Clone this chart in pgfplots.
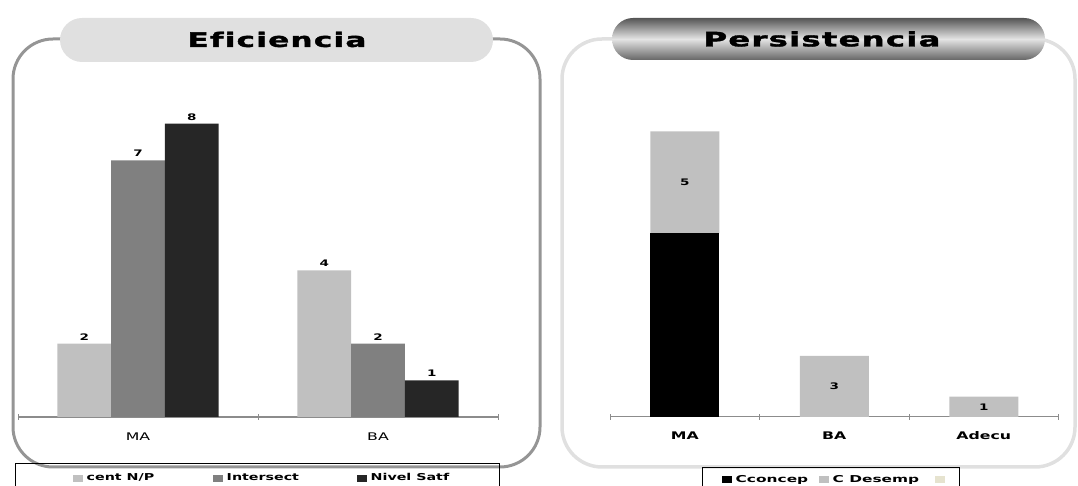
\documentclass[border=0pt]{standalone}
\usepackage{graphicx}
\usepackage{pgfplots}
\pgfplotsset{compat=1.18}
\usepackage{fontspec}
\setmainfont{DejaVu Sans}
\newfontfamily\titlefont[LetterSpace=4,FakeBold=1.5,Ligatures=NoCommon]{DejaVu Sans}
\newcommand{\hs}[1]{\scalebox{1.5}[1]{#1}}
\newcommand{\hsr}[1]{\scalebox{1.62}[1]{#1}}
\definecolor{barA}{HTML}{C0C0C0}
\definecolor{barB}{HTML}{808080}
\definecolor{barC}{HTML}{262626}
\definecolor{beige}{HTML}{E6E3CF}
\definecolor{frameL}{HTML}{959595}
\definecolor{frameR}{HTML}{E0E0E0}
\definecolor{pillL}{HTML}{E0E0E0}
\definecolor{pillDark}{HTML}{555555}
\definecolor{pillDarkB}{HTML}{666666}
\definecolor{pillLight}{HTML}{E4E4E4}
\definecolor{axisgray}{HTML}{8C8C8C}
\pgfplotsset{
  legimg/.style={legend image code/.code={\path[##1, draw=none] (0pt,-3.5pt) rectangle (10pt,3.5pt);}},
}
\begin{document}
\begin{tikzpicture}
\useasboundingbox (0pt,0pt) rectangle (1078pt,486pt);
% left frame and pill
\draw[color=frameL, line width=3pt, rounded corners=40pt] (13pt,19pt) rectangle (540pt,447pt);
\fill[pillL, rounded corners=22pt] (60pt,424pt) rectangle (493pt,468pt);
\node at (277pt,446.5pt) {\scalebox{1.554}[1]{\titlefont\bfseries\fontsize{20}{22}\selectfont Eficiencia}};
% right frame and pill
\draw[color=frameR, line width=3.5pt, rounded corners=40pt] (562pt,19pt) rectangle (1075pt,447pt);
\shade[rounded corners=21pt, top color=pillDark, bottom color=pillDarkB, middle color=pillLight] (612pt,426pt) rectangle (1045pt,468pt);
\node at (822pt,447pt) {\scalebox{1.611}[1]{\titlefont\bfseries\fontsize{20}{22}\selectfont Persistencia}};
% legend boxes
\draw[black, line width=0.9pt] (15pt,23pt) rectangle (499pt,-10pt);
\draw[black, line width=0.9pt] (702pt,19pt) rectangle (959pt,-10pt);

\begin{axis}[
  at={(18pt,69pt)}, anchor=south west, scale only axis,
  width=480pt, height=330pt,
  xmin=-0.5, xmax=1.5, ymin=0, ymax=9,
  clip=false,
  ybar=0pt, bar width=53.7pt,
  axis y line=none, axis x line=bottom,
  axis line style={-, draw=axisgray, line width=1.2pt},
  xtick={0,1}, xticklabels={\hs{MA},\hs{BA}},
  major tick length=0pt,
  extra x ticks={-0.5,0.5,1.5}, extra x tick labels={},
  extra x tick style={major tick length=6pt, tick align=center, tick style={draw=axisgray, line width=1pt}},
  xticklabel style={font=\fontsize{10.5}{12}\selectfont, yshift=-12pt},
  nodes near coords={\hs{\pgfmathprintnumber{\pgfplotspointmeta}}},
  /pgf/number format/assume math mode=true,
  every node near coord/.append style={font=\bfseries\fontsize{9}{10}\selectfont, black},
  legend columns=3,
  legimg,
  legend style={draw=none, fill=none, at={(axis description cs:0.1146,-0.185)}, anchor=west,
    font=\bfseries\fontsize{9.5}{10}\selectfont, inner sep=0pt},
]
\addplot[fill=barA, draw=none] coordinates {(0,2) (1,4)};
\addlegendentry{\makebox[126pt][l]{\hspace{1.5pt}\hs{cent N/P}}}
\addplot[fill=barB, draw=none] coordinates {(0,7) (1,2)};
\addlegendentry{\makebox[130pt][l]{\hspace{1.5pt}\hs{Intersect}}}
\addplot[fill=barC, draw=none] coordinates {(0,8) (1,1)};
\addlegendentry{\hspace{1.5pt}\hs{Nivel Satf}}
\end{axis}

\begin{axis}[
  at={(610pt,69pt)}, anchor=south west, scale only axis,
  width=448.5pt, height=326.4pt,
  xmin=-0.5, xmax=2.5, ymin=0, ymax=16,
  clip=false,
  ybar stacked, bar width=69pt,
  axis y line=none, axis x line=bottom,
  axis line style={-, draw=axisgray, line width=1pt},
  xtick={0,1,2}, xticklabels={\hs{MA},\hs{BA},\hs{Adecu}},
  major tick length=0pt,
  extra x ticks={-0.5,0.5,1.5,2.5}, extra x tick labels={},
  extra x tick style={major tick length=6pt, tick align=center, tick style={draw=axisgray, line width=0.8pt}},
  xticklabel style={font=\bfseries\fontsize{10.5}{12}\selectfont, yshift=-11pt},
  point meta=rawy,
  nodes near coords={\pgfmathfloatifflags{\pgfplotspointmeta}{0}{}{\hs{\pgfmathprintnumber{\pgfplotspointmeta}}}},
  /pgf/number format/assume math mode=true,
  every node near coord/.append style={font=\bfseries\fontsize{9}{10}\selectfont, black, anchor=center},
  legend columns=3,
  legimg,
  legend style={draw=none, fill=none, at={(axis description cs:0.2497,-0.193)}, anchor=west,
    font=\bfseries\fontsize{9.5}{10}\selectfont, inner sep=0pt},
]
\addplot[fill=black, draw=none] coordinates {(0,9) (1,0) (2,0)};
\addlegendentry{\makebox[83pt][l]{\hspace{1.5pt}\hsr{Cconcep}}}
\addplot[fill=barA, draw=none] coordinates {(0,5) (1,3) (2,1)};
\addlegendentry{\makebox[102pt][l]{\hspace{1.5pt}\hsr{C Desemp}}}
\addlegendimage{fill=beige, draw=none}
\addlegendentry{}
\end{axis}
\end{tikzpicture}
\end{document}
